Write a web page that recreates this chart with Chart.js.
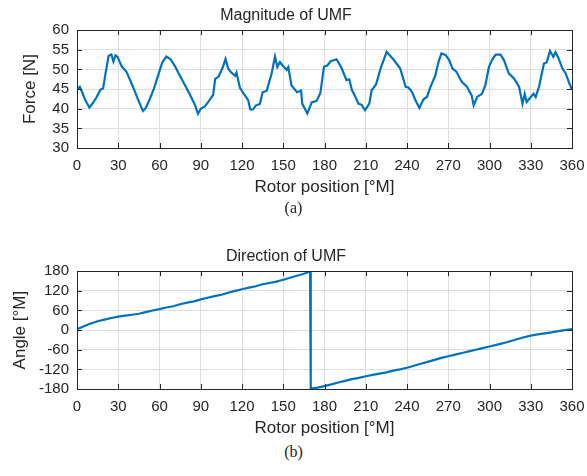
<!DOCTYPE html>
<html>
<head>
<meta charset="utf-8">
<script src="https://cdn.jsdelivr.net/npm/chart.js@4/dist/chart.umd.min.js"></script>
<style>
  html, body { margin: 0; padding: 0; background: #fff; }
  #page { position: relative; width: 587px; height: 476px; overflow: hidden; }
  .box { position: absolute; left: 0; width: 587px; height: 200px; }
  .cap { position: absolute; left: 0; width: 587px; text-align: center;
         font: 16px "Liberation Serif", "Times New Roman", serif; color: #222; }
</style>
</head>
<body>
<div id="page">
  <div class="box" style="top:0"><canvas id="mag-chart" width="587" height="200"></canvas></div>
  <div class="cap" style="top:199px">(a)</div>
  <div class="box" style="top:241px"><canvas id="dir-chart" width="587" height="200"></canvas></div>
  <div class="cap" style="top:443px">(b)</div>
</div>
<script>
"use strict";

// (a) magnitude of UMF
const magAngle = [0, 2, 4, 6, 9, 11, 14, 17, 19, 21, 23, 25, 26.5, 28, 29.5, 32.5, 36, 39, 42, 45,
  48, 50, 53, 56, 59, 62, 65, 68, 71, 74, 77, 80, 83, 86, 88, 90, 93, 96, 99, 100.5,
  103, 106, 108, 110, 112, 115, 116, 118.5, 121, 124.5, 126, 128, 130, 133, 135, 138, 141.5, 144, 145.7, 147.6,
  150.5, 152.5, 153.7, 156, 160, 163, 163.8, 167.5, 170.7, 174.3, 177, 179.6, 182, 184.5, 188.8, 192.5, 196, 198, 200, 202,
  204.6, 207, 209.5, 212.6, 214.3, 217.5, 221, 225.2, 230, 235, 239, 241, 243.6, 246, 249, 252, 254.5, 257, 260.6, 263,
  265, 268, 270.7, 273, 276, 278, 280, 283.6, 287, 288.5, 291, 294.5, 297, 299.6, 302, 304.5, 308, 310.5, 314, 317.8,
  321.5, 324, 325.6, 327, 330, 332, 333.6, 336, 339.6, 341.6, 344, 346.4, 348, 349.8, 353, 355.4, 358, 360];
const magForce = [45.0, 45.6, 44.0, 42.2, 40.3, 41.2, 42.8, 44.8, 45.2, 49.5, 53.5, 53.8, 52.0, 53.6, 53.2, 50.8, 49.4, 47.0, 44.5, 41.8,
  39.4, 40.2, 42.5, 45.2, 48.5, 51.8, 53.3, 52.6, 51.0, 49.0, 47.0, 45.0, 43.0, 40.8, 38.7, 40.0, 40.6, 42.0, 43.5, 47.6,
  48.2, 50.5, 52.7, 50.2, 49.3, 48.4, 49.2, 45.3, 44.0, 42.2, 39.8, 39.8, 40.8, 41.2, 44.2, 44.6, 48.9, 53.3, 50.6, 51.9,
  50.6, 49.9, 50.6, 45.9, 44.2, 44.6, 41.3, 38.8, 41.6, 42.0, 44.0, 50.7, 51.0, 52.1, 52.6, 50.3, 47.3, 47.5, 44.7, 43.4,
  41.3, 41.0, 39.6, 41.3, 44.7, 46.2, 50.5, 54.5, 52.6, 50.3, 45.6, 45.4, 44.3, 42.3, 40.2, 42.4, 43.0, 45.5, 48.5, 52.0,
  54.1, 53.7, 52.4, 50.3, 49.4, 48.0, 46.8, 45.6, 43.4, 40.9, 43.0, 43.8, 46.0, 50.7, 52.5, 53.8, 53.8, 52.4, 49.0, 47.7,
  45.6, 41.3, 43.8, 41.7, 43.0, 43.8, 43.0, 45.6, 51.5, 51.8, 54.7, 53.2, 54.4, 53.2, 50.3, 49.0, 46.5, 44.8];

// (b) direction of UMF
const dirAngle = [0, 5, 10, 15, 20, 25, 30, 35, 40, 45, 50, 55, 60, 65, 70, 75, 80, 85, 90, 95,
  100, 105, 110, 115, 120, 125, 130, 135, 140, 145, 150, 155, 160, 165, 169.5, 170,
  175, 180, 185, 190, 195, 200, 205, 210, 215, 220, 225, 230, 235, 240, 245, 250, 255, 260, 265,
  270, 275, 280, 285, 290, 295, 300, 305, 310, 315, 320, 325, 330, 335, 340, 345, 350, 355, 360];
const dirValue = [3, 12, 20, 27, 32, 37, 41, 44, 47, 50, 55, 60, 64, 69, 73, 79, 84, 88, 94, 99,
  104, 108, 114, 120, 125, 130, 134, 140, 144, 148, 154, 160, 166, 172, 179, -179,
  -176, -171, -166, -160, -155, -150, -146, -141, -137, -133, -129, -124, -120, -115, -109, -103, -97, -91, -85,
  -80, -75, -70, -65, -60, -55, -50, -45, -40, -34, -28, -22, -17, -13, -10, -7, -3, 0, 3];

const xTicks = [0, 30, 60, 90, 120, 150, 180, 210, 240, 270, 300, 330, 360];
const forceTicks = [30, 35, 40, 45, 50, 55, 60];
const angleTicks = [-180, -120, -60, 0, 60, 120, 180];

const FONT = '"Liberation Sans", Arial, sans-serif';
const INK = '#262626';
const LINE = '#0072BD';

// MATLAB style box with inward tick marks
const boxPlugin = {
  id: 'matlabBox',
  afterDraw(chart) {
    const { ctx, chartArea: a, scales } = chart;
    ctx.save();
    ctx.strokeStyle = INK;
    ctx.lineWidth = 1;
    ctx.beginPath();
    scales.x.ticks.forEach(t => {
      const px = Math.round(scales.x.getPixelForValue(t.value)) + 0.5;
      ctx.moveTo(px, a.bottom); ctx.lineTo(px, a.bottom - 5);
      ctx.moveTo(px, a.top); ctx.lineTo(px, a.top + 5);
    });
    scales.y.ticks.forEach(t => {
      const py = Math.round(scales.y.getPixelForValue(t.value)) + 0.5;
      ctx.moveTo(a.left, py); ctx.lineTo(a.left + 5, py);
      ctx.moveTo(a.right, py); ctx.lineTo(a.right - 5, py);
    });
    ctx.stroke();
    ctx.strokeRect(Math.round(a.left) + 0.5, Math.round(a.top) + 0.5,
      Math.round(a.right - a.left), Math.round(a.bottom - a.top));
    ctx.restore();
  }
};

function makeChart(id, title, xs, ys, yTitle, yTicks, yTitlePad) {
  const points = xs.map((x, i) => ({ x: x, y: ys[i] }));
  return new Chart(document.getElementById(id), {
    type: 'line',
    data: {
      datasets: [{
        data: points,
        borderColor: LINE,
        borderWidth: 2.2,
        pointRadius: 0,
        tension: 0,
        fill: false
      }]
    },
    options: {
      responsive: false,
      animation: false,
      layout: { padding: { left: 0, right: 15, top: 0, bottom: 0 } },
      plugins: {
        legend: { display: false },
        tooltip: { enabled: false },
        title: {
          display: true,
          text: title,
          color: INK,
          font: { family: FONT, size: 16, weight: 'normal' },
          padding: { top: 6, bottom: 5 }
        }
      },
      scales: {
        x: {
          type: 'linear',
          min: 0,
          max: 360,
          afterBuildTicks(scale) { scale.ticks = xTicks.map(v => ({ value: v })); },
          afterFit(scale) {
            scale.height = 52;
            scale.paddingLeft = 0;
            scale.paddingRight = 0;
          },
          grid: { color: '#dedede', drawTicks: false },
          border: { display: false },
          ticks: { color: INK, font: { family: FONT, size: 15 }, padding: 9, maxRotation: 0, autoSkip: false },
          title: {
            display: true,
            text: 'Rotor position [°M]',
            color: INK,
            font: { family: FONT, size: 17 },
            padding: { top: 0, bottom: 2 }
          }
        },
        y: {
          min: yTicks[0],
          max: yTicks[yTicks.length - 1],
          afterBuildTicks(scale) { scale.ticks = yTicks.map(v => ({ value: v })); },
          afterFit(scale) { scale.width = 77; },
          grid: { color: '#dedede', drawTicks: false },
          border: { display: false },
          ticks: { color: INK, font: { family: FONT, size: 15 }, padding: 8, autoSkip: false, callback: v => String(v) },
          title: {
            display: true,
            text: yTitle,
            color: INK,
            font: { family: FONT, size: 17 },
            padding: { top: yTitlePad, bottom: 0 }
          }
        }
      }
    },
    plugins: [boxPlugin]
  });
}

document.addEventListener('DOMContentLoaded', () => {
  makeChart('mag-chart', 'Magnitude of UMF', magAngle, magForce, 'Force [N]', forceTicks, 20);
  makeChart('dir-chart', 'Direction of UMF', dirAngle, dirValue, 'Angle [°M]', angleTicks, 10);
});
</script>
</body>
</html>
